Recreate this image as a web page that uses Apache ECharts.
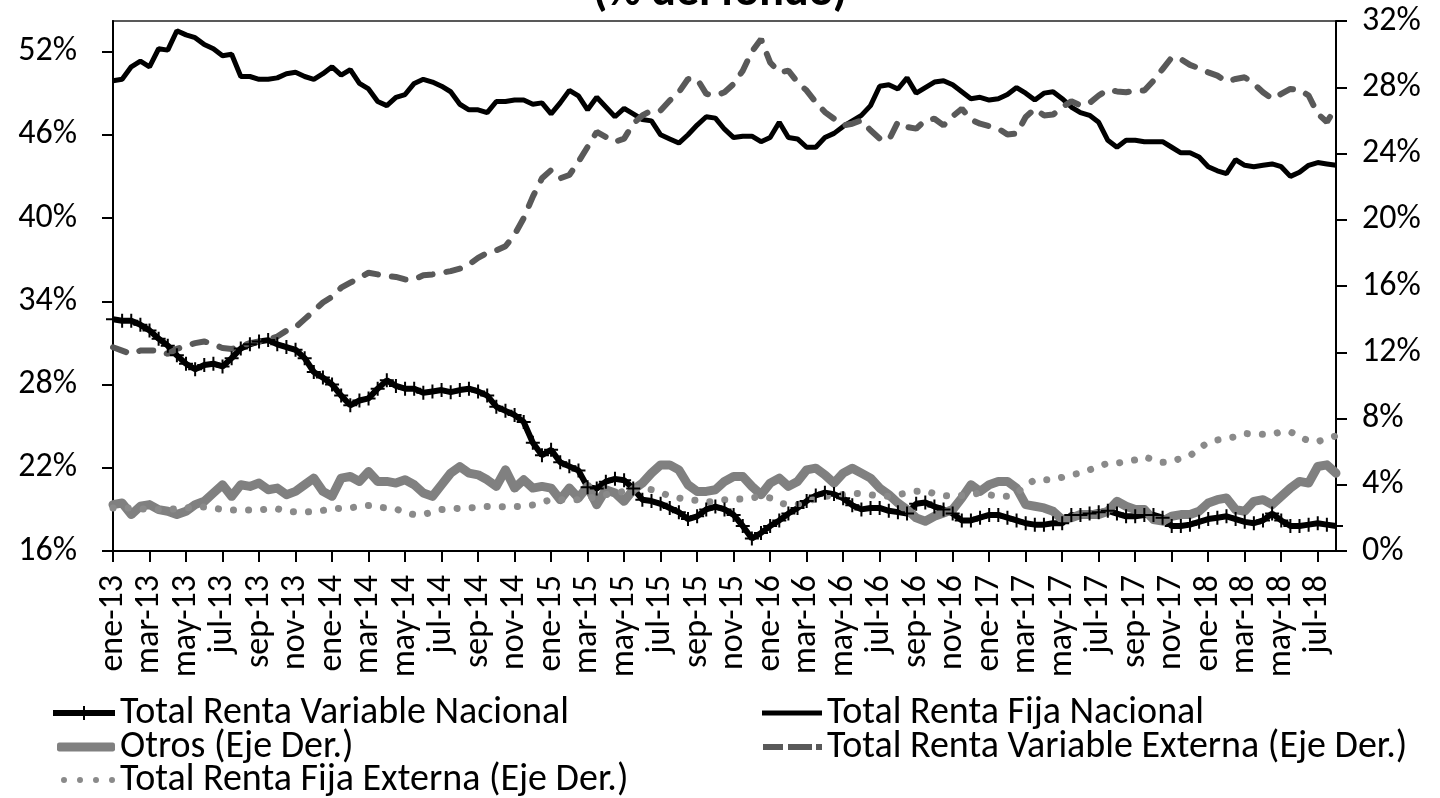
<!DOCTYPE html>
<html>
<head>
<meta charset="utf-8">
<title>Composición de cartera (% del fondo)</title>
<script src="https://cdn.jsdelivr.net/npm/echarts@6/dist/echarts.min.js"></script>
<style>
  html, body { margin: 0; padding: 0; background: #ffffff; }
  #chart { width: 1440px; height: 798px; }
</style>
</head>
<body>
<div id="chart"></div>
<script>
// Etiquetas del eje de fechas (cada dos meses)
const tickLabels = [
  'ene-13','mar-13','may-13','jul-13','sep-13','nov-13',
  'ene-14','mar-14','may-14','jul-14','sep-14','nov-14',
  'ene-15','mar-15','may-15','jul-15','sep-15','nov-15',
  'ene-16','mar-16','may-16','jul-16','sep-16','nov-16',
  'ene-17','mar-17','may-17','jul-17','sep-17','nov-17',
  'ene-18','mar-18','may-18','jul-18'
];

// Fechas de observación quincenales: ene-2013 a ago-2018
const fechas = [];
for (let i = 0; i <= 134; i++) {
  const y = 2013 + Math.floor(i / 24);
  const mo = Math.floor((i % 24) / 2) + 1;
  fechas.push(y + '-' + String(mo).padStart(2, '0') + (i % 2 ? '-16' : '-01'));
}

// Eje izquierdo (%)
const rentaVariableNacional = [
  32.7, 32.6, 32.6, 32.3, 31.9, 31.3, 30.8, 30.1, 29.5, 29.1,
  29.4, 29.5, 29.3, 29.9, 30.6, 30.9, 31.1, 31.2, 30.9, 30.7,
  30.5, 29.9, 28.9, 28.5, 28.0, 27.2, 26.5, 26.85, 27.0, 27.7,
  28.3, 27.9, 27.7, 27.7, 27.4, 27.5, 27.6, 27.45, 27.6, 27.7,
  27.5, 27.2, 26.4, 26.1, 25.8, 25.3, 23.8, 22.9, 23.3, 22.4,
  22.1, 21.8, 20.6, 20.5, 21.0, 21.2, 21.1, 20.5, 19.7, 19.6,
  19.4, 19.1, 18.8, 18.3, 18.5, 19.0, 19.2, 19.0, 18.6, 17.8,
  16.9, 17.3, 17.8, 18.2, 18.7, 19.1, 19.6, 20.0, 20.2, 20.1,
  19.8, 19.3, 19.0, 19.1, 19.1, 18.9, 18.8, 18.7, 19.4, 19.5,
  19.2, 19.0, 18.7, 18.2, 18.2, 18.4, 18.6, 18.6, 18.4, 18.2,
  18.0, 17.9, 17.9, 18.0, 18.0, 18.6, 18.6, 18.7, 18.8, 18.9,
  18.7, 18.5, 18.5, 18.6, 18.6, 18.4, 17.8, 17.8, 17.9, 18.1,
  18.3, 18.4, 18.5, 18.3, 18.1, 18.0, 18.2, 18.7, 18.2, 17.8,
  17.8, 17.9, 18.0, 17.9, 17.8
];

const rentaFijaNacional = [
  49.9, 50.0, 50.9, 51.3, 50.9, 52.2, 52.1, 53.5, 53.2, 53.0,
  52.5, 52.2, 51.7, 51.8, 50.2, 50.2, 50.0, 50.0, 50.1, 50.4,
  50.5, 50.2, 50.0, 50.4, 50.9, 50.3, 50.7, 49.7, 49.3, 48.4,
  48.1, 48.7, 48.9, 49.7, 50.0, 49.8, 49.5, 49.1, 48.2, 47.8,
  47.8, 47.6, 48.4, 48.4, 48.5, 48.5, 48.2, 48.3, 47.5, 48.3,
  49.2, 48.8, 47.8, 48.7, 48.0, 47.3, 47.9, 47.5, 47.1, 47.0,
  46.0, 45.7, 45.4, 46.0, 46.7, 47.3, 47.2, 46.4, 45.8, 45.9,
  45.9, 45.5, 45.8, 46.9, 45.8, 45.7, 45.1, 45.1, 45.8, 46.1,
  46.6, 47.0, 47.4, 48.1, 49.5, 49.6, 49.3, 50.1, 49.0, 49.4,
  49.8, 49.9, 49.6, 49.1, 48.6, 48.7, 48.5, 48.6, 48.9, 49.4,
  49.0, 48.5, 49.0, 49.1, 48.6, 48.0, 47.6, 47.4, 46.9, 45.6,
  45.1, 45.6, 45.6, 45.5, 45.5, 45.5, 45.1, 44.7, 44.7, 44.4,
  43.7, 43.4, 43.2, 44.2, 43.8, 43.7, 43.8, 43.9, 43.7, 43.0,
  43.3, 43.8, 44.0, 43.9, 43.8
];

// Eje derecho (%)
const otros = [
  2.8, 2.9, 2.2, 2.7, 2.8, 2.5, 2.4, 2.2, 2.4, 2.8,
  3.0, 3.5, 4.0, 3.3, 4.0, 3.9, 4.1, 3.7, 3.8, 3.4,
  3.6, 4.0, 4.4, 3.6, 3.3, 4.4, 4.5, 4.2, 4.8, 4.2,
  4.2, 4.1, 4.3, 4.0, 3.5, 3.3, 4.0, 4.7, 5.1, 4.7,
  4.6, 4.3, 3.9, 4.9, 3.8, 4.3, 3.8, 3.9, 3.8, 3.1,
  3.8, 3.2, 3.9, 2.8, 3.7, 3.5, 3.0, 3.7, 4.1, 4.7,
  5.2, 5.2, 4.9, 4.0, 3.6, 3.6, 3.7, 4.2, 4.5, 4.5,
  3.9, 3.4, 4.1, 4.4, 3.9, 4.2, 4.9, 5.0, 4.6, 4.1,
  4.7, 5.0, 4.7, 4.4, 3.8, 3.4, 2.9, 2.5, 2.0, 1.8,
  2.1, 2.3, 2.5, 3.2, 4.0, 3.6, 4.0, 4.2, 4.2, 3.8,
  2.8, 2.7, 2.6, 2.4, 1.9, 2.0, 2.2, 2.2, 2.2, 2.4,
  3.0, 2.7, 2.5, 2.5, 1.9, 1.8, 2.1, 2.2, 2.2, 2.4,
  2.9, 3.1, 3.2, 2.5, 2.4, 3.0, 3.1, 2.8, 3.3, 3.8,
  4.2, 4.1, 5.1, 5.2, 4.7
];

const rentaVariableExterna = [
  12.3, 12.1, 11.9, 12.1, 12.1, 12.1, 11.9, 12.2, 12.4, 12.55,
  12.65, 12.5, 12.25, 12.2, 12.35, 12.55, 12.65, 12.75, 12.95, 13.3,
  13.5, 14.0, 14.5, 15.0, 15.35, 15.9, 16.2, 16.5, 16.8, 16.7,
  16.6, 16.55, 16.4, 16.4, 16.65, 16.7, 16.8, 16.9, 17.05, 17.3,
  17.7, 18.0, 18.15, 18.4, 19.1, 20.1, 21.4, 22.5, 23.0, 22.5,
  22.7, 23.5, 24.4, 25.3, 25.0, 24.7, 24.9, 25.8, 26.3, 26.6,
  26.6, 27.2, 27.7, 28.5, 28.5, 27.6, 27.5, 27.7, 28.2, 29.0,
  30.15, 30.9, 29.5, 28.9, 29.0, 28.3, 27.8, 27.1, 26.5, 26.1,
  25.7, 25.8, 26.0, 25.4, 24.9, 24.8, 25.9, 25.6, 25.5, 26.0,
  26.1, 25.7, 26.25, 26.7, 26.05, 25.8, 25.65, 25.5, 25.15, 25.2,
  26.2, 26.7, 26.3, 26.35, 26.8, 27.15, 26.9, 27.05, 27.5, 27.85,
  27.75, 27.7, 27.8, 27.8, 28.4, 29.1, 29.8, 29.7, 29.35, 29.15,
  28.9, 28.7, 28.35, 28.5, 28.6, 28.2, 27.7, 27.3, 27.6, 27.9,
  27.85, 27.5, 26.4, 25.9, 26.8
];

const rentaFijaExterna = [
  2.6, 2.6, 2.6, 2.55, 2.5, 2.5, 2.5, 2.55, 2.6, 2.65,
  2.65, 2.6, 2.5, 2.47, 2.47, 2.47, 2.47, 2.55, 2.55, 2.4,
  2.36, 2.36, 2.38, 2.45, 2.55, 2.58, 2.6, 2.7, 2.75, 2.65,
  2.6, 2.55, 2.3, 2.2, 2.2, 2.35, 2.5, 2.55, 2.58, 2.6,
  2.65, 2.68, 2.65, 2.68, 2.68, 2.72, 2.78, 2.95, 3.1, 3.1,
  3.1, 3.1, 3.15, 3.3, 3.4, 3.5, 3.6, 3.75, 3.8, 3.7,
  3.55, 3.3, 3.2, 3.1, 3.05, 2.95, 3.0, 3.1, 3.1, 3.15,
  3.2, 3.3, 3.2, 2.9, 2.8, 2.8, 3.0, 3.15, 3.3, 3.35,
  3.4, 3.5, 3.45, 3.4, 3.3, 3.3, 3.4, 3.5, 3.6, 3.65,
  3.45, 3.35, 3.3, 3.35, 3.4, 3.5, 3.4, 3.3, 3.3, 3.5,
  3.94, 4.3, 4.3, 4.3, 4.45, 4.6, 4.7, 4.9, 5.1, 5.3,
  5.3, 5.4, 5.5, 5.7, 5.5, 5.35, 5.4, 5.6, 5.75, 6.2,
  6.55, 6.7, 6.8, 6.9, 7.1, 7.05, 7.05, 7.05, 7.2, 7.2,
  6.9, 6.65, 6.6, 6.8, 6.95
];

const FONT = 'Carlito, Lato, sans-serif';

// Marcador "+" de la serie de renta variable nacional
const PLUS = 'path://M-1,-7L1,-7L1,-1L7,-1L7,1L1,1L1,7L-1,7L-1,1L-7,1L-7,-1L-1,-1Z';

// Iconos de leyenda dibujados como trazos de línea
const ICON_RVN = 'path://M0,4H62V10H0Z M30,0H32V14H30Z';
const ICON_RVE = 'path://M0,0H20V6H0Z M25,0H49V6H25Z M53,0H59V6H53Z';
const ICON_RFE = 'path://M0,3a3,3 0 1,0 6,0a3,3 0 1,0 -6,0Z M16,3a3,3 0 1,0 6,0a3,3 0 1,0 -6,0Z M32,3a3,3 0 1,0 6,0a3,3 0 1,0 -6,0Z M48,3a3,3 0 1,0 6,0a3,3 0 1,0 -6,0Z';

const chart = echarts.init(document.getElementById('chart'), null, { renderer: 'canvas' });

const LEGEND_LINE = 34;
const legendText = { color: '#000', fontFamily: FONT, fontSize: 38, lineHeight: LEGEND_LINE };

// Una leyenda por entrada, centrada verticalmente en su fila
function legendItem(name, icon, left, centerY, w, h) {
  return {
    data: [{ name: name, icon: icon }],
    left: left, top: centerY - LEGEND_LINE / 2,
    padding: 0, itemWidth: w, itemHeight: h,
    itemStyle: { borderWidth: 0 },
    textStyle: legendText, selectedMode: false
  };
}

chart.setOption({
  animation: false,
  backgroundColor: '#ffffff',
  title: {
    text: '(% del fondo)',
    left: 'center',
    top: -35,
    textStyle: { fontFamily: FONT, fontSize: 46, fontWeight: 'bold', color: '#000' }
  },
  grid: {
    left: 113, right: 104, top: 21, bottom: 247,
    show: true, borderColor: '#595959', borderWidth: 2, backgroundColor: 'transparent'
  },
  legend: [
    legendItem('Total Renta Variable Nacional', ICON_RVN, 53, 711, 62, 14),
    legendItem('Otros (Eje Der.)', 'roundRect', 57, 745, 58, 9),
    legendItem('Total Renta Fija Externa (Eje Der.)', ICON_RFE, 61, 778, 54, 6),
    legendItem('Total Renta Fija Nacional', 'rect', 762, 711, 60, 5),
    legendItem('Total Renta Variable Externa (Eje Der.)', ICON_RVE, 763, 745, 59, 6)
  ],
  xAxis: {
    type: 'category',
    data: fechas,
    boundaryGap: false,
    axisLine: { lineStyle: { color: '#000', width: 2 } },
    axisTick: { show: true, interval: 3, length: 11, lineStyle: { color: '#000', width: 2 } },
    axisLabel: {
      interval: 3, rotate: 90, margin: 24,
      color: '#000', fontFamily: FONT, fontSize: 34,
      formatter: (v, idx) => (idx % 4 === 0 ? tickLabels[idx / 4] : '')
    },
    splitLine: { show: false }
  },
  yAxis: [
    {
      type: 'value', position: 'left',
      min: 16, max: 54.2, interval: 6,
      axisLine: { show: true, lineStyle: { color: '#000', width: 2 } },
      axisTick: { show: true, length: 11, lineStyle: { color: '#000', width: 2 } },
      axisLabel: {
        formatter: '{value}%', margin: 36, showMaxLabel: false,
        color: '#000', fontFamily: FONT, fontSize: 34
      },
      splitLine: { show: false }
    },
    {
      type: 'value', position: 'right',
      min: 0, max: 32, interval: 4,
      axisLine: { show: true, lineStyle: { color: '#000', width: 2 } },
      axisTick: { show: true, length: 11, lineStyle: { color: '#000', width: 2 } },
      axisLabel: {
        formatter: '{value}%', margin: 26,
        color: '#000', fontFamily: FONT, fontSize: 34
      },
      splitLine: { show: false }
    }
  ],
  series: [
    {
      name: 'Total Renta Variable Nacional', type: 'line', yAxisIndex: 0,
      data: rentaVariableNacional,
      symbol: PLUS, symbolSize: 14, showSymbol: true, showAllSymbol: true,
      itemStyle: { color: '#000', borderWidth: 0 },
      lineStyle: { color: '#000', width: 6 },
      emphasis: { disabled: true }
    },
    {
      name: 'Total Renta Fija Nacional', type: 'line', yAxisIndex: 0,
      data: rentaFijaNacional,
      symbol: 'none',
      itemStyle: { color: '#000' },
      lineStyle: { color: '#000', width: 5 },
      emphasis: { disabled: true }
    },
    {
      name: 'Otros (Eje Der.)', type: 'line', yAxisIndex: 1,
      data: otros,
      symbol: 'none',
      itemStyle: { color: '#808080' },
      lineStyle: { color: '#808080', width: 9, cap: 'round', join: 'round' },
      emphasis: { disabled: true }
    },
    {
      name: 'Total Renta Variable Externa (Eje Der.)', type: 'line', yAxisIndex: 1,
      data: rentaVariableExterna,
      symbol: 'none',
      itemStyle: { color: '#595959' },
      lineStyle: { color: '#595959', width: 6, type: [14, 14], cap: 'round' },
      emphasis: { disabled: true }
    },
    {
      name: 'Total Renta Fija Externa (Eje Der.)', type: 'line', yAxisIndex: 1,
      data: rentaFijaExterna,
      symbol: 'none',
      itemStyle: { color: '#8a8a8a' },
      lineStyle: { color: '#8a8a8a', width: 7, type: [0.1, 15], cap: 'round' },
      emphasis: { disabled: true }
    }
  ]
});
</script>
</body>
</html>
